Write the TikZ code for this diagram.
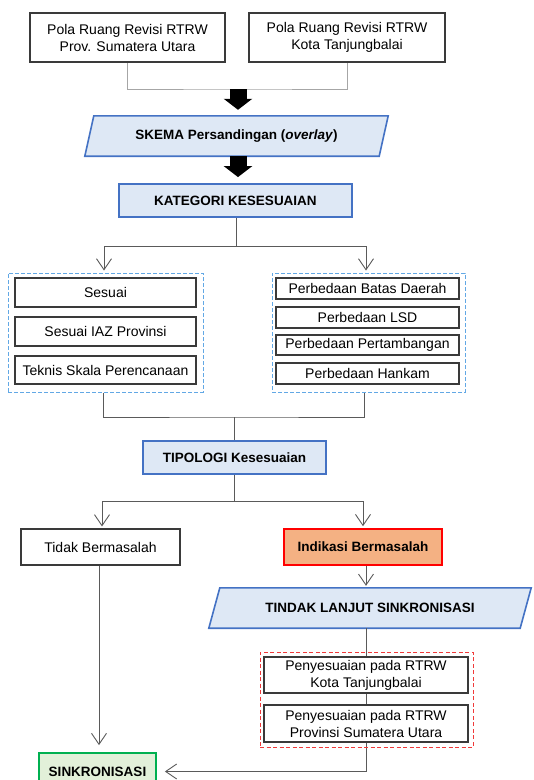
\documentclass[tikz,border=0pt]{standalone}
\usepackage{fontspec}
\setmainfont{Liberation Sans}
\usetikzlibrary{arrows.meta,backgrounds,calc}
\definecolor{boxline}{HTML}{3A3A3A}
\definecolor{conn}{HTML}{5A5A5A}
\definecolor{connlight}{HTML}{A6A6A6}
\definecolor{blueline}{HTML}{4472C4}
\definecolor{bluefill}{HTML}{DEE8F5}
\definecolor{dashblue}{HTML}{62A8E5}
\definecolor{dashred}{HTML}{F03A3A}
\definecolor{orangefill}{HTML}{F4B183}
\definecolor{greenline}{HTML}{00B050}
\definecolor{greenfill}{HTML}{E2F0D9}
\newcommand{\fnorm}{\fontsize{14}{17}\selectfont}
\newcommand{\fbold}{\fontsize{13.5}{16}\selectfont\bfseries}
\tikzset{
  box/.style={draw=boxline, line width=1.1pt, fill=white, inner sep=0pt, align=center, font=\fnorm},
  bluebox/.style={draw=blueline, line width=1.8pt, fill=bluefill, inner sep=0pt, align=center, font=\fbold},
  parabox/.style={inner sep=0pt, align=center, font=\fbold},
  parashape/.style={draw=blueline, line width=1.6pt, fill=bluefill, line join=miter},
  grpblue/.style={draw=dashblue, line width=1pt, dash pattern=on 4pt off 2pt, inner sep=0pt},
  grpred/.style={draw=dashred, line width=0.9pt, dash pattern=on 4pt off 2.5pt, inner sep=0pt},
  redbox/.style={draw=red, line width=1.6pt, fill=orangefill, inner sep=0pt, align=center, font=\fbold},
  greenbox/.style={draw=greenline, line width=1.8pt, fill=greenfill, inner sep=0pt, align=center, font=\fbold},
  conline/.style={draw=conn, line width=0.9pt},
  arr/.style={conline, -{Straight Barb[length=11pt,width=15pt,line width=0.9pt]}},
  blockarr/.style={line width=17pt, -{Triangle[length=11pt,width=28pt]}, black},
}
\begin{document}
\begin{tikzpicture}[x=1pt,y=-1pt]
\useasboundingbox (0,0) rectangle (534,780);
\clip (0,0) rectangle (534,780);

% top boxes
\node[box, minimum width=195pt, minimum height=49pt] (b1) at (127.5,37.5) {Pola Ruang Revisi RTRW\\Prov. Sumatera Utara};
\node[box, minimum width=196pt, minimum height=49pt] (b2) at (347,37.5) {Pola Ruang Revisi RTRW\\Kota Tanjungbalai};
\coordinate (j1) at (238,89);

% SKEMA parallelogram
\node[parabox, minimum width=303pt, minimum height=40pt] (skema) at (236.5,136) {SKEMA Persandingan (\textit{overlay})};
\node[bluebox, minimum width=233pt, minimum height=33pt] (kat) at (235.5,200.5) {KATEGORI KESESUAIAN};

% groups
\node[grpblue, minimum width=195pt, minimum height=119pt] (lgrp) at (105.5,332.5) {};
\node[grpblue, minimum width=193pt, minimum height=119pt] (rgrp) at (368.5,332.5) {};
\node[box, minimum width=181pt, minimum height=29pt] (s1) at (105.5,292.5) {Sesuai};
\node[box, minimum width=181pt, minimum height=29pt] (s2) at (105.5,331.5) {Sesuai IAZ Provinsi};
\node[box, minimum width=181pt, minimum height=28pt] (s3) at (105.5,370) {Teknis Skala Perencanaan};
\node[box, minimum width=183pt, minimum height=21pt] (p1) at (367.5,288.5) {Perbedaan Batas Daerah};
\node[box, minimum width=183pt, minimum height=21pt] (p2) at (367.5,317.5) {Perbedaan LSD};
\node[box, minimum width=183pt, minimum height=20pt] (p3) at (367.5,345) {Perbedaan Pertambangan};
\node[box, minimum width=183pt, minimum height=21pt] (p4) at (367.5,373.5) {Perbedaan Hankam};

\node[bluebox, minimum width=183pt, minimum height=33pt] (tipo) at (234.5,457.5) {TIPOLOGI Kesesuaian};
\node[box, minimum width=159pt, minimum height=36pt] (tidak) at (100.5,547) {Tidak Bermasalah};
\node[redbox, minimum width=158pt, minimum height=36pt] (indik) at (363,547) {Indikasi Bermasalah};

\node[parabox, minimum width=322pt, minimum height=40pt] (tindak) at (370,608) {TINDAK LANJUT SINKRONISASI};

\node[grpred, minimum width=213pt, minimum height=95pt] (rgrp2) at (366.5,699.5) {};
\node[box, minimum width=204pt, minimum height=36pt] (pen1) at (366,675) {Penyesuaian pada RTRW\\Kota Tanjungbalai};
\node[box, minimum width=204pt, minimum height=37pt] (pen2) at (366,723.5) {Penyesuaian pada RTRW\\Provinsi Sumatera Utara};

\node[greenbox, minimum width=117pt, minimum height=37pt, text depth=0pt] (sink) at (97.5,771.5) {SINKRONISASI};

\coordinate (k1) at (236,246);
\coordinate (t1) at (234,417);
\coordinate (t2) at (234,501);

\begin{scope}[on background layer]
  \draw[parashape] ($(skema.north west)+(9,0)$) -- (skema.north east) -- ($(skema.south east)+(-9,0)$) -- (skema.south west) -- cycle;
  \draw[parashape] ($(tindak.north west)+(11,0)$) -- (tindak.north east) -- ($(tindak.south east)+(-11,0)$) -- (tindak.south west) -- cycle;
  % connectors
  \draw[draw=connlight, line width=1pt] (b1.south) |- (j1) -| (b2.south);
  \draw[conline] (kat.south -| k1) -- (k1);
  \draw[arr, shorten >=2pt] (k1) -| ($(lgrp.north)+(-1.5,0)$);
  \draw[arr, shorten >=2pt] (k1) -| ($(rgrp.north)+(-2.5,0)$);
  \draw[conline] ($(lgrp.south)+(-2.5,0)$) |- (t1) -| ($(rgrp.south)+(-4.5,0)$);
  \draw[conline] (t1) -- (tipo.north -| t1);
  \draw[conline] (tipo.south -| t2) -- (t2);
  \draw[arr, shorten >=2pt] (t2) -| ($(tidak.north)+(1.5,0)$);
  \draw[arr, shorten >=2pt] (t2) -| (indik.north);
  \draw[arr, shorten >=2pt] ($(indik.south)+(3,0)$) -- ($(indik.south |- tindak.north)+(3,0)$);
  \draw[arr, shorten >=8pt] (tindak.south -| pen1.south) |- (sink.east);
  \draw[arr, shorten >=7pt] ($(tidak.south)+(-1.5,0)$) -- ($(sink.north -| tidak.south)+(-1.5,0)$);
\end{scope}

\draw[blockarr, shorten >=6pt] (j1) -- (skema.north -| j1);
\draw[blockarr, shorten >=6pt] (skema.south -| j1) -- (kat.north -| j1);
\end{tikzpicture}
\end{document}
